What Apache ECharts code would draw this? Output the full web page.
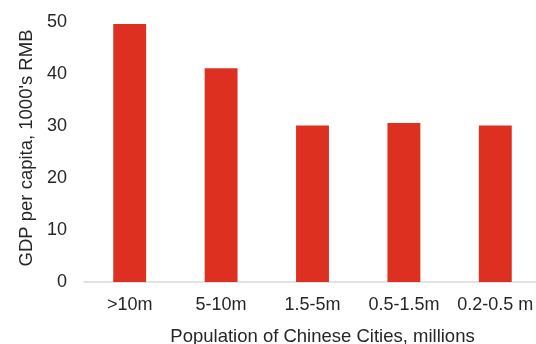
<!DOCTYPE html>
<html>
<head>
<meta charset="utf-8">
<script src="https://cdn.jsdelivr.net/npm/echarts@6/dist/echarts.min.js"></script>
<style>
  html, body { margin: 0; padding: 0; background: #fff; }
  #chart { width: 536px; height: 344px; }
</style>
</head>
<body>
<div id="chart"></div>
<script>
// City size bands and average GDP per capita (thousand RMB)
const categories = ['>10m', '5-10m', '1.5-5m', '0.5-1.5m', '0.2-0.5 m'];
const gdpPerCapita = [49.6, 41.1, 30.1, 30.6, 30.1];
const yTicks = { min: 0, max: 50, interval: 10 };

const chart = echarts.init(document.getElementById('chart'), null, { renderer: 'canvas' });
const font = 'Liberation Sans, Arial, sans-serif';
const textColor = '#262626';

chart.setOption({
  animation: false,
  grid: { left: 84, top: 22, width: 457, height: 260, outerBoundsMode: 'none', containLabel: false },
  xAxis: {
    type: 'category',
    data: categories,
    name: 'Population of Chinese Cities, millions',
    nameLocation: 'middle',
    nameGap: 45,
    nameTextStyle: { fontFamily: font, fontSize: 18.5, color: textColor, padding: [0, 0, 0, 20] },
    axisLine: { lineStyle: { color: '#d9d9d9', width: 1.5 } },
    axisTick: { show: false },
    axisLabel: { fontFamily: font, fontSize: 18, color: textColor, margin: 14, interval: 0 }
  },
  yAxis: {
    type: 'value',
    min: yTicks.min,
    max: yTicks.max,
    interval: yTicks.interval,
    name: "GDP per capita, 1000's RMB",
    nameLocation: 'middle',
    nameGap: 47,
    nameTextStyle: { fontFamily: font, fontSize: 18.5, color: textColor, padding: [0, 0, 0, 8] },
    axisLine: { show: false },
    axisTick: { show: false },
    splitLine: { show: false },
    axisLabel: { fontFamily: font, fontSize: 18, color: textColor, margin: 17 }
  },
  series: [{
    type: 'bar',
    data: gdpPerCapita,
    barWidth: '36%',
    itemStyle: { color: '#de3020' }
  }]
});
</script>
</body>
</html>
